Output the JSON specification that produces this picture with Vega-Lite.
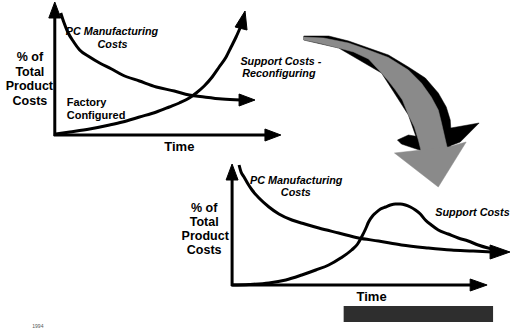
{
  "$schema": "https://vega.github.io/schema/vega-lite/v6.json",
  "width": 513,
  "height": 329,
  "autosize": {"type": "fit", "contains": "padding"},
  "padding": 0,
  "background": "white",
  "config": {"view": {"stroke": null}, "font": "Liberation Sans"},
  "datasets": {
    "bigArrow": [
      {"part": "shadow", "shape": "shaft", "i": 1, "x": 305, "y": 36},
      {"part": "shadow", "shape": "shaft", "i": 2, "x": 330, "y": 36},
      {"part": "shadow", "shape": "shaft", "i": 3, "x": 350, "y": 41},
      {"part": "shadow", "shape": "shaft", "i": 4, "x": 370, "y": 48},
      {"part": "shadow", "shape": "shaft", "i": 5, "x": 390, "y": 55},
      {"part": "shadow", "shape": "shaft", "i": 6, "x": 410, "y": 67},
      {"part": "shadow", "shape": "shaft", "i": 7, "x": 427, "y": 78},
      {"part": "shadow", "shape": "shaft", "i": 8, "x": 440, "y": 93},
      {"part": "shadow", "shape": "shaft", "i": 9, "x": 448, "y": 107},
      {"part": "shadow", "shape": "shaft", "i": 10, "x": 452, "y": 120},
      {"part": "shadow", "shape": "shaft", "i": 11, "x": 453, "y": 135},
      {"part": "shadow", "shape": "shaft", "i": 12, "x": 452, "y": 148},
      {"part": "shadow", "shape": "shaft", "i": 13, "x": 423, "y": 152},
      {"part": "shadow", "shape": "shaft", "i": 14, "x": 410, "y": 115},
      {"part": "shadow", "shape": "shaft", "i": 15, "x": 383, "y": 73},
      {"part": "shadow", "shape": "shaft", "i": 16, "x": 340, "y": 48},
      {"part": "shadow", "shape": "shaft", "i": 17, "x": 305, "y": 40},
      {"part": "shadow", "shape": "wingL", "i": 1, "x": 399, "y": 140},
      {"part": "shadow", "shape": "wingL", "i": 2, "x": 410, "y": 135},
      {"part": "shadow", "shape": "wingL", "i": 3, "x": 422, "y": 137},
      {"part": "shadow", "shape": "wingL", "i": 4, "x": 424, "y": 151},
      {"part": "shadow", "shape": "wingL", "i": 5, "x": 403, "y": 144},
      {"part": "shadow", "shape": "wingR", "i": 1, "x": 447, "y": 129},
      {"part": "shadow", "shape": "wingR", "i": 2, "x": 481, "y": 123},
      {"part": "shadow", "shape": "wingR", "i": 3, "x": 462, "y": 142},
      {"part": "shadow", "shape": "wingR", "i": 4, "x": 449, "y": 147},
      {"part": "face", "shape": "shaft", "i": 1, "x": 305, "y": 37},
      {"part": "face", "shape": "shaft", "i": 2, "x": 325, "y": 38},
      {"part": "face", "shape": "shaft", "i": 3, "x": 350, "y": 43},
      {"part": "face", "shape": "shaft", "i": 4, "x": 370, "y": 50},
      {"part": "face", "shape": "shaft", "i": 5, "x": 390, "y": 57.5},
      {"part": "face", "shape": "shaft", "i": 6, "x": 410, "y": 70},
      {"part": "face", "shape": "shaft", "i": 7, "x": 423, "y": 83},
      {"part": "face", "shape": "shaft", "i": 8, "x": 433, "y": 97},
      {"part": "face", "shape": "shaft", "i": 9, "x": 440, "y": 110},
      {"part": "face", "shape": "shaft", "i": 10, "x": 443, "y": 122},
      {"part": "face", "shape": "shaft", "i": 11, "x": 446, "y": 135},
      {"part": "face", "shape": "shaft", "i": 12, "x": 449, "y": 148},
      {"part": "face", "shape": "shaft", "i": 13, "x": 423, "y": 152},
      {"part": "face", "shape": "shaft", "i": 14, "x": 420, "y": 140},
      {"part": "face", "shape": "shaft", "i": 15, "x": 416, "y": 127},
      {"part": "face", "shape": "shaft", "i": 16, "x": 410, "y": 115},
      {"part": "face", "shape": "shaft", "i": 17, "x": 404, "y": 100},
      {"part": "face", "shape": "shaft", "i": 18, "x": 397, "y": 90},
      {"part": "face", "shape": "shaft", "i": 19, "x": 390, "y": 81},
      {"part": "face", "shape": "shaft", "i": 20, "x": 383, "y": 73},
      {"part": "face", "shape": "shaft", "i": 21, "x": 370, "y": 59},
      {"part": "face", "shape": "shaft", "i": 22, "x": 355, "y": 52},
      {"part": "face", "shape": "shaft", "i": 23, "x": 340, "y": 48},
      {"part": "face", "shape": "shaft", "i": 24, "x": 320, "y": 43},
      {"part": "face", "shape": "shaft", "i": 25, "x": 305, "y": 40},
      {"part": "face", "shape": "head", "i": 1, "x": 423, "y": 150},
      {"part": "face", "shape": "head", "i": 2, "x": 396, "y": 153},
      {"part": "face", "shape": "head", "i": 3, "x": 440, "y": 187},
      {"part": "face", "shape": "head", "i": 4, "x": 468, "y": 142},
      {"part": "face", "shape": "head", "i": 5, "x": 450, "y": 147}
    ],
    "axes": [
      {"ax": "top-y", "x": 55, "y": 16, "x2": 55, "y2": 136},
      {"ax": "top-x", "x": 54, "y": 135, "x2": 268, "y2": 135},
      {"ax": "bot-y", "x": 233, "y": 178, "x2": 233, "y2": 286},
      {"ax": "bot-x", "x": 232, "y": 285, "x2": 474, "y2": 285}
    ],
    "curves": [
      {"curve": "top-pc", "x": 61, "y": 13},
      {"curve": "top-pc", "x": 64, "y": 22},
      {"curve": "top-pc", "x": 68, "y": 32},
      {"curve": "top-pc", "x": 74, "y": 42},
      {"curve": "top-pc", "x": 80, "y": 50},
      {"curve": "top-pc", "x": 90, "y": 57},
      {"curve": "top-pc", "x": 100, "y": 63},
      {"curve": "top-pc", "x": 112, "y": 69},
      {"curve": "top-pc", "x": 123, "y": 75},
      {"curve": "top-pc", "x": 140, "y": 81},
      {"curve": "top-pc", "x": 157, "y": 87},
      {"curve": "top-pc", "x": 175, "y": 91},
      {"curve": "top-pc", "x": 190, "y": 95},
      {"curve": "top-pc", "x": 205, "y": 97},
      {"curve": "top-pc", "x": 223, "y": 99},
      {"curve": "top-pc", "x": 242, "y": 100},
      {"curve": "top-support", "x": 56, "y": 134},
      {"curve": "top-support", "x": 70, "y": 132},
      {"curve": "top-support", "x": 90, "y": 129},
      {"curve": "top-support", "x": 110, "y": 125},
      {"curve": "top-support", "x": 123, "y": 122},
      {"curve": "top-support", "x": 140, "y": 117},
      {"curve": "top-support", "x": 157, "y": 112},
      {"curve": "top-support", "x": 170, "y": 107},
      {"curve": "top-support", "x": 180, "y": 103},
      {"curve": "top-support", "x": 190, "y": 98},
      {"curve": "top-support", "x": 197, "y": 93},
      {"curve": "top-support", "x": 205, "y": 86},
      {"curve": "top-support", "x": 213, "y": 77},
      {"curve": "top-support", "x": 220, "y": 67},
      {"curve": "top-support", "x": 227, "y": 57},
      {"curve": "top-support", "x": 232, "y": 47},
      {"curve": "top-support", "x": 237, "y": 37},
      {"curve": "top-support", "x": 241, "y": 28},
      {"curve": "bot-pc", "x": 240, "y": 165},
      {"curve": "bot-pc", "x": 242, "y": 172},
      {"curve": "bot-pc", "x": 245, "y": 177},
      {"curve": "bot-pc", "x": 249, "y": 184},
      {"curve": "bot-pc", "x": 253, "y": 190},
      {"curve": "bot-pc", "x": 260, "y": 198},
      {"curve": "bot-pc", "x": 270, "y": 207},
      {"curve": "bot-pc", "x": 280, "y": 214},
      {"curve": "bot-pc", "x": 293, "y": 220},
      {"curve": "bot-pc", "x": 306, "y": 224},
      {"curve": "bot-pc", "x": 320, "y": 228},
      {"curve": "bot-pc", "x": 340, "y": 233},
      {"curve": "bot-pc", "x": 360, "y": 238},
      {"curve": "bot-pc", "x": 380, "y": 241},
      {"curve": "bot-pc", "x": 403, "y": 245},
      {"curve": "bot-pc", "x": 430, "y": 248},
      {"curve": "bot-pc", "x": 453, "y": 250},
      {"curve": "bot-pc", "x": 475, "y": 251},
      {"curve": "bot-pc", "x": 494, "y": 252},
      {"curve": "bot-support", "x": 233, "y": 285},
      {"curve": "bot-support", "x": 250, "y": 284.5},
      {"curve": "bot-support", "x": 270, "y": 283},
      {"curve": "bot-support", "x": 287, "y": 280},
      {"curve": "bot-support", "x": 303, "y": 275},
      {"curve": "bot-support", "x": 317, "y": 270},
      {"curve": "bot-support", "x": 330, "y": 265},
      {"curve": "bot-support", "x": 342, "y": 258},
      {"curve": "bot-support", "x": 353, "y": 250},
      {"curve": "bot-support", "x": 359, "y": 244},
      {"curve": "bot-support", "x": 363, "y": 237},
      {"curve": "bot-support", "x": 367, "y": 229},
      {"curve": "bot-support", "x": 370, "y": 222},
      {"curve": "bot-support", "x": 374, "y": 216},
      {"curve": "bot-support", "x": 377, "y": 213},
      {"curve": "bot-support", "x": 382, "y": 209},
      {"curve": "bot-support", "x": 387, "y": 207},
      {"curve": "bot-support", "x": 392, "y": 205},
      {"curve": "bot-support", "x": 397, "y": 204},
      {"curve": "bot-support", "x": 402, "y": 204},
      {"curve": "bot-support", "x": 407, "y": 205},
      {"curve": "bot-support", "x": 412, "y": 207},
      {"curve": "bot-support", "x": 417, "y": 210},
      {"curve": "bot-support", "x": 422, "y": 214},
      {"curve": "bot-support", "x": 427, "y": 220},
      {"curve": "bot-support", "x": 433, "y": 225},
      {"curve": "bot-support", "x": 440, "y": 230},
      {"curve": "bot-support", "x": 450, "y": 234},
      {"curve": "bot-support", "x": 460, "y": 238},
      {"curve": "bot-support", "x": 470, "y": 241},
      {"curve": "bot-support", "x": 480, "y": 245},
      {"curve": "bot-support", "x": 490, "y": 248},
      {"curve": "bot-support", "x": 500, "y": 250}
    ],
    "heads": [
      {"head": "top-y", "i": 1, "x": 55, "y": 2},
      {"head": "top-y", "i": 2, "x": 49, "y": 18},
      {"head": "top-y", "i": 3, "x": 61, "y": 18},
      {"head": "top-x", "i": 1, "x": 282, "y": 135},
      {"head": "top-x", "i": 2, "x": 266, "y": 129},
      {"head": "top-x", "i": 3, "x": 266, "y": 141},
      {"head": "top-pc", "i": 1, "x": 256, "y": 100},
      {"head": "top-pc", "i": 2, "x": 240, "y": 94},
      {"head": "top-pc", "i": 3, "x": 240, "y": 106},
      {"head": "top-support", "i": 1, "x": 246, "y": 11},
      {"head": "top-support", "i": 2, "x": 236, "y": 27},
      {"head": "top-support", "i": 3, "x": 248, "y": 30},
      {"head": "bot-y", "i": 1, "x": 233, "y": 164},
      {"head": "bot-y", "i": 2, "x": 227, "y": 180},
      {"head": "bot-y", "i": 3, "x": 239, "y": 180},
      {"head": "bot-x", "i": 1, "x": 489, "y": 285},
      {"head": "bot-x", "i": 2, "x": 472, "y": 279},
      {"head": "bot-x", "i": 3, "x": 472, "y": 291},
      {"head": "bot-pc", "i": 1, "x": 512, "y": 252},
      {"head": "bot-pc", "i": 2, "x": 492, "y": 245},
      {"head": "bot-pc", "i": 3, "x": 492, "y": 259}
    ],
    "ylabels": [
      {"text": "% of", "x": 30, "y": 57},
      {"text": "Total", "x": 30, "y": 72},
      {"text": "Product", "x": 29.5, "y": 86},
      {"text": "Costs", "x": 30, "y": 101},
      {"text": "% of", "x": 205, "y": 208},
      {"text": "Total", "x": 205, "y": 222},
      {"text": "Product", "x": 206, "y": 236},
      {"text": "Costs", "x": 205, "y": 250}
    ],
    "timelabels": [
      {"text": "Time", "x": 180, "y": 147},
      {"text": "Time", "x": 373, "y": 297}
    ],
    "seriesLeft": [
      {"text": "PC  Manufacturing", "x": 66, "y": 32},
      {"text": "PC  Manufacturing", "x": 251, "y": 181},
      {"text": "Support  Costs", "x": 437, "y": 213}
    ],
    "seriesCenter": [
      {"text": "Costs", "x": 113, "y": 45},
      {"text": "Costs", "x": 297, "y": 193},
      {"text": "Support Costs -", "x": 282, "y": 62},
      {"text": "Reconfiguring", "x": 280, "y": 74}
    ],
    "notes": [
      {"text": "Factory", "x": 67, "y": 103},
      {"text": "Configured", "x": 67, "y": 116}
    ],
    "bar": [
      {"x": 345, "x2": 495, "y": 306, "y2": 322}
    ],
    "stamp": [
      {"text": "1994", "x": 38, "y": 326}
    ]
  },
  "layer": [
    {
      "data": {"name": "bigArrow"},
      "transform": [{"filter": "datum.part === 'shadow'"}],
      "mark": {"type": "line", "interpolate": "linear-closed", "fill": "#000000", "stroke": "#000000", "strokeWidth": 0.5},
      "encoding": {
        "x": {"field": "x", "type": "quantitative", "scale": {"domain": [0, 513], "nice": false, "zero": false}, "axis": null},
        "y": {"field": "y", "type": "quantitative", "scale": {"domain": [0, 329], "nice": false, "zero": false, "reverse": true}, "axis": null},
        "detail": {"field": "shape", "type": "nominal"},
        "order": {"field": "i", "type": "quantitative"}
      }
    },
    {
      "data": {"name": "bigArrow"},
      "transform": [{"filter": "datum.part === 'face'"}],
      "mark": {"type": "line", "interpolate": "linear-closed", "fill": "#8a8a8a", "stroke": "#8a8a8a", "strokeWidth": 0.5},
      "encoding": {
        "x": {"field": "x", "type": "quantitative", "axis": null},
        "y": {"field": "y", "type": "quantitative", "axis": null},
        "detail": {"field": "shape", "type": "nominal"},
        "order": {"field": "i", "type": "quantitative"}
      }
    },
    {
      "data": {"name": "axes"},
      "mark": {"type": "rule", "color": "#000000", "strokeWidth": 3},
      "encoding": {
        "x": {"field": "x", "type": "quantitative", "axis": null},
        "y": {"field": "y", "type": "quantitative", "axis": null},
        "x2": {"field": "x2"},
        "y2": {"field": "y2"}
      }
    },
    {
      "data": {"name": "curves"},
      "mark": {"type": "line", "interpolate": "monotone", "color": "#000000", "strokeWidth": 3},
      "encoding": {
        "x": {"field": "x", "type": "quantitative", "axis": null},
        "y": {"field": "y", "type": "quantitative", "axis": null},
        "detail": {"field": "curve", "type": "nominal"}
      }
    },
    {
      "data": {"name": "heads"},
      "mark": {"type": "line", "interpolate": "linear-closed", "fill": "#000000", "stroke": "#000000", "strokeWidth": 1},
      "encoding": {
        "x": {"field": "x", "type": "quantitative", "axis": null},
        "y": {"field": "y", "type": "quantitative", "axis": null},
        "detail": {"field": "head", "type": "nominal"},
        "order": {"field": "i", "type": "quantitative"}
      }
    },
    {
      "data": {"name": "bar"},
      "mark": {"type": "rect", "color": "#2e2e2e"},
      "encoding": {
        "x": {"field": "x", "type": "quantitative", "axis": null},
        "x2": {"field": "x2"},
        "y": {"field": "y", "type": "quantitative", "axis": null},
        "y2": {"field": "y2"}
      }
    },
    {
      "data": {"name": "ylabels"},
      "mark": {"type": "text", "font": "Liberation Sans", "fontWeight": "bold", "fontSize": 12.5, "align": "center", "baseline": "middle", "color": "#000000"},
      "encoding": {
        "x": {"field": "x", "type": "quantitative", "axis": null},
        "y": {"field": "y", "type": "quantitative", "axis": null},
        "text": {"field": "text"}
      }
    },
    {
      "data": {"name": "timelabels"},
      "mark": {"type": "text", "font": "Liberation Sans", "fontWeight": "bold", "fontSize": 13, "align": "center", "baseline": "middle", "color": "#000000"},
      "encoding": {
        "x": {"field": "x", "type": "quantitative", "axis": null},
        "y": {"field": "y", "type": "quantitative", "axis": null},
        "text": {"field": "text"}
      }
    },
    {
      "data": {"name": "seriesLeft"},
      "mark": {"type": "text", "font": "Liberation Sans", "fontWeight": "bold", "fontStyle": "italic", "fontSize": 10.8, "align": "left", "baseline": "middle", "color": "#000000"},
      "encoding": {
        "x": {"field": "x", "type": "quantitative", "axis": null},
        "y": {"field": "y", "type": "quantitative", "axis": null},
        "text": {"field": "text"}
      }
    },
    {
      "data": {"name": "seriesCenter"},
      "mark": {"type": "text", "font": "Liberation Sans", "fontWeight": "bold", "fontStyle": "italic", "fontSize": 10.8, "align": "center", "baseline": "middle", "color": "#000000"},
      "encoding": {
        "x": {"field": "x", "type": "quantitative", "axis": null},
        "y": {"field": "y", "type": "quantitative", "axis": null},
        "text": {"field": "text"}
      }
    },
    {
      "data": {"name": "notes"},
      "mark": {"type": "text", "font": "Liberation Sans", "fontWeight": "bold", "fontSize": 11, "align": "left", "baseline": "middle", "color": "#000000"},
      "encoding": {
        "x": {"field": "x", "type": "quantitative", "axis": null},
        "y": {"field": "y", "type": "quantitative", "axis": null},
        "text": {"field": "text"}
      }
    },
    {
      "data": {"name": "stamp"},
      "mark": {"type": "text", "font": "Liberation Sans", "fontSize": 5, "align": "center", "baseline": "middle", "color": "#555555"},
      "encoding": {
        "x": {"field": "x", "type": "quantitative", "axis": null},
        "y": {"field": "y", "type": "quantitative", "axis": null},
        "text": {"field": "text"}
      }
    }
  ]
}
